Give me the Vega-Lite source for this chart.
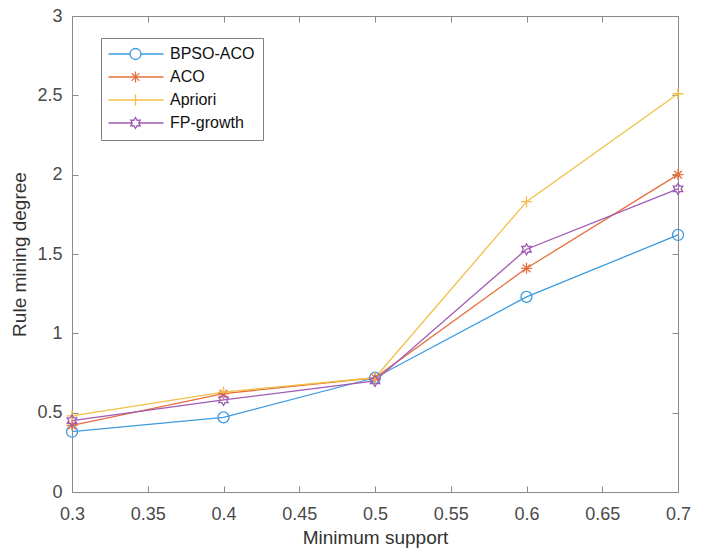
{
  "$schema": "https://vega.github.io/schema/vega-lite/v6.json",
  "width": 606,
  "height": 476,
  "autosize": {"type": "none"},
  "padding": {"left": 72, "top": 16, "right": 26, "bottom": 58},
  "background": "white",
  "config": {
    "font": "Liberation Sans",
    "view": {"stroke": null},
    "axis": {
      "grid": false,
      "domainColor": "#8a8a8a",
      "tickColor": "#8a8a8a",
      "tickSize": -6,
      "labelColor": "#4a4a4a",
      "labelFontSize": 18,
      "titleFontSize": 19,
      "titleFontWeight": "normal",
      "titleColor": "#333333",
      "labelFont": "Liberation Sans",
      "titleFont": "Liberation Sans",
      "labelFlush": false,
      "labelOverlap": false
    }
  },
  "data": {
    "values": [
      {"support": 0.3, "algo": "BPSO-ACO", "degree": 0.38},
      {"support": 0.4, "algo": "BPSO-ACO", "degree": 0.47},
      {"support": 0.5, "algo": "BPSO-ACO", "degree": 0.72},
      {"support": 0.6, "algo": "BPSO-ACO", "degree": 1.23},
      {"support": 0.7, "algo": "BPSO-ACO", "degree": 1.62},
      {"support": 0.3, "algo": "ACO", "degree": 0.42},
      {"support": 0.4, "algo": "ACO", "degree": 0.62},
      {"support": 0.5, "algo": "ACO", "degree": 0.72},
      {"support": 0.6, "algo": "ACO", "degree": 1.41},
      {"support": 0.7, "algo": "ACO", "degree": 2.0},
      {"support": 0.3, "algo": "Apriori", "degree": 0.48},
      {"support": 0.4, "algo": "Apriori", "degree": 0.63},
      {"support": 0.5, "algo": "Apriori", "degree": 0.72},
      {"support": 0.6, "algo": "Apriori", "degree": 1.83},
      {"support": 0.7, "algo": "Apriori", "degree": 2.51},
      {"support": 0.3, "algo": "FP-growth", "degree": 0.45},
      {"support": 0.4, "algo": "FP-growth", "degree": 0.58},
      {"support": 0.5, "algo": "FP-growth", "degree": 0.70},
      {"support": 0.6, "algo": "FP-growth", "degree": 1.53},
      {"support": 0.7, "algo": "FP-growth", "degree": 1.91}
    ]
  },
  "layer": [
    {
      "mark": {"type": "line", "strokeWidth": 1.3},
      "encoding": {
        "x": {
          "field": "support", "type": "quantitative",
          "scale": {"domain": [0.3, 0.7], "nice": false, "zero": false},
          "axis": {"orient": "bottom", "values": [0.3, 0.35, 0.4, 0.45, 0.5, 0.55, 0.6, 0.65, 0.7], "format": "~g", "title": "Minimum support", "labelPadding": 19, "titlePadding": 5}
        },
        "y": {
          "field": "degree", "type": "quantitative",
          "scale": {"domain": [0, 3], "nice": false},
          "axis": {"orient": "left", "values": [0, 0.5, 1, 1.5, 2, 2.5, 3], "format": "~g", "title": "Rule mining degree", "labelPadding": 16, "titlePadding": 7}
        },
        "color": {
          "field": "algo", "type": "nominal",
          "sort": ["BPSO-ACO", "ACO", "Apriori", "FP-growth"],
          "scale": {"domain": ["BPSO-ACO", "ACO", "Apriori", "FP-growth"], "range": ["#3d9be0", "#e5703d", "#f0c04a", "#a05ab5"]},
          "legend": {
            "title": null,
            "orient": "none",
            "legendX": 29,
            "legendY": 22,
            "padding": 8,
            "strokeColor": "#808080",
            "fillColor": "white",
            "labelFontSize": 16,
            "labelColor": "#111111",
            "labelFont": "Liberation Sans",
            "symbolSize": 196,
            "labelOffset": 45,
            "rowPadding": 5,
            "encode": {
              "symbols": {
                "update": {
                  "fill": {"value": "transparent"},
                  "strokeWidth": {"value": 1.3},
                  "shape": {"signal": "datum.value === 'BPSO-ACO' ? 'M-1.214,0L1.857,0M3.429,0L6.643,0M3.429,0A0.786,0.786 0 1,1 1.857,0A0.786,0.786 0 1,1 3.429,0Z' : datum.value === 'ACO' ? 'M-1.214,0L6.643,0M2.643,-0.786L2.643,0.786M2.087,-0.556L3.199,0.556M2.087,0.556L3.199,-0.556' : datum.value === 'Apriori' ? 'M-1.214,0L6.643,0M2.643,-0.786L2.643,0.786' : 'M-1.214,0L2.189,0M3.097,0L6.643,0M2.643,-0.786L2.870,-0.393L3.324,-0.393L3.097,0L3.324,0.393L2.870,0.393L2.643,0.786L2.416,0.393L1.962,0.393L2.189,0L1.962,-0.393L2.416,-0.393Z'"}
                }
              }
            }
          }
        }
      }
    },
    {
      "transform": [{"filter": "datum.algo === 'BPSO-ACO'"}],
      "mark": {"type": "point", "filled": false, "strokeWidth": 1.3, "opacity": 1, "color": "#3d9be0", "size": 121, "shape": "M1,0A1,1 0 1,1 -1,0A1,1 0 1,1 1,0Z"},
      "encoding": {
        "x": {
          "field": "support", "type": "quantitative",
          "axis": {"orient": "top", "values": [0.3, 0.35, 0.4, 0.45, 0.5, 0.55, 0.6, 0.65, 0.7], "labels": false, "title": null}
        },
        "y": {
          "field": "degree", "type": "quantitative",
          "axis": {"orient": "right", "values": [0, 0.5, 1, 1.5, 2, 2.5, 3], "labels": false, "title": null}
        }
      }
    },
    {
      "transform": [{"filter": "datum.algo === 'ACO'"}],
      "mark": {"type": "point", "filled": false, "strokeWidth": 1.3, "opacity": 1, "color": "#e5703d", "size": 121, "shape": "M-1,0L1,0M0,-1L0,1M-0.707,-0.707L0.707,0.707M-0.707,0.707L0.707,-0.707"},
      "encoding": {
        "x": {"field": "support", "type": "quantitative", "axis": null},
        "y": {"field": "degree", "type": "quantitative", "axis": null}
      }
    },
    {
      "transform": [{"filter": "datum.algo === 'Apriori'"}],
      "mark": {"type": "point", "filled": false, "strokeWidth": 1.3, "opacity": 1, "color": "#f0c04a", "size": 121, "shape": "M-1,0L1,0M0,-1L0,1"},
      "encoding": {
        "x": {"field": "support", "type": "quantitative", "axis": null},
        "y": {"field": "degree", "type": "quantitative", "axis": null}
      }
    },
    {
      "transform": [{"filter": "datum.algo === 'FP-growth'"}],
      "mark": {"type": "point", "filled": false, "strokeWidth": 1.3, "opacity": 1, "color": "#a05ab5", "size": 121, "shape": "M0,-1L0.289,-0.5L0.866,-0.5L0.577,0L0.866,0.5L0.289,0.5L0,1L-0.289,0.5L-0.866,0.5L-0.577,0L-0.866,-0.5L-0.289,-0.5Z"},
      "encoding": {
        "x": {"field": "support", "type": "quantitative", "axis": null},
        "y": {"field": "degree", "type": "quantitative", "axis": null}
      }
    }
  ]
}
